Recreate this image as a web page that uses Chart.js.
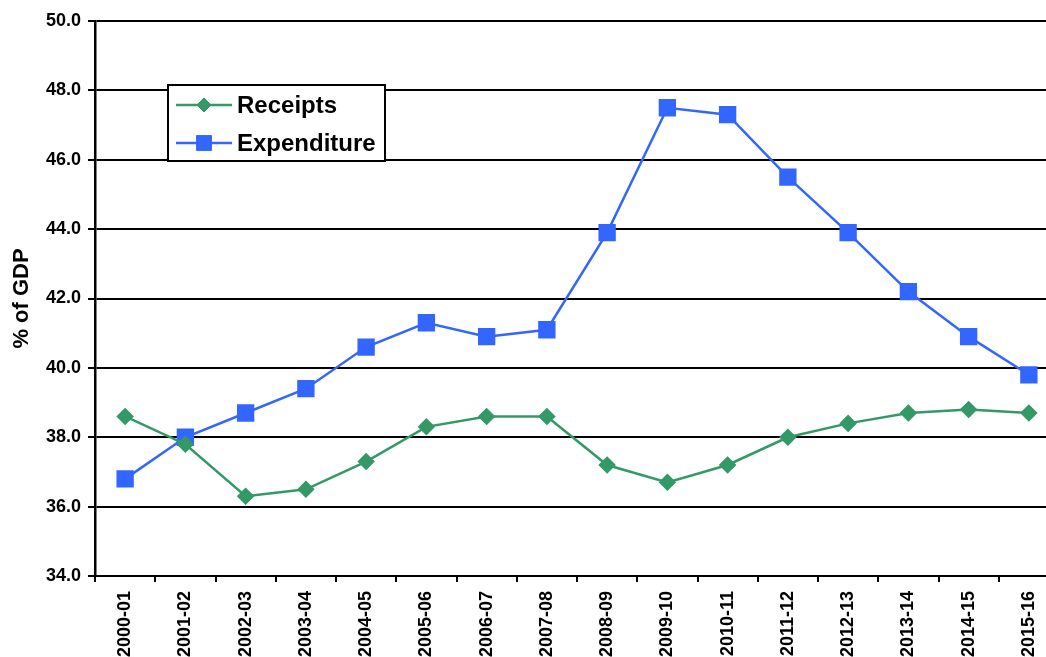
<!DOCTYPE html>
<html>
<head>
<meta charset="utf-8">
<script src="https://cdn.jsdelivr.net/npm/chart.js@4/dist/chart.umd.min.js"></script>
<style>
  html, body { margin: 0; padding: 0; background: #fff; overflow: hidden; }
  #frame { position: relative; width: 1046px; height: 657px; overflow: hidden; }
  #wrap { position: absolute; left: 0; top: 0; width: 1059px; height: 657px; }
</style>
</head>
<body>
<div id="frame"><div id="wrap"><canvas id="c" width="1059" height="657"></canvas></div></div>
<script>
// Fiscal years
const years = ['2000-01','2001-02','2002-03','2003-04','2004-05','2005-06','2006-07','2007-08',
               '2008-09','2009-10','2010-11','2011-12','2012-13','2013-14','2014-15','2015-16'];

// Public sector receipts, % of GDP
const receipts = [38.6, 37.8, 36.3, 36.5, 37.3, 38.3, 38.6, 38.6, 37.2, 36.7, 37.2, 38.0, 38.4, 38.7, 38.8, 38.7];

// Public sector expenditure, % of GDP
const expenditure = [36.8, 38.0, 38.7, 39.4, 40.6, 41.3, 40.9, 41.1, 43.9, 47.5, 47.3, 45.5, 43.9, 42.2, 40.9, 39.8];

// Value axis range
const yMin = 34, yMax = 50, yStep = 2;

const FONT = "'Liberation Sans', Arial, Helvetica, sans-serif";
const GREEN = '#339966';
const BLUE = '#3366FF';

// Boxed legend drawn inside the plot area
const boxLegend = {
  id: 'boxLegend',
  afterDatasetsDraw(chart, args, opts) {
    const ctx = chart.ctx;
    ctx.save();
    ctx.fillStyle = '#fff';
    ctx.fillRect(opts.x, opts.y, opts.w, opts.h);
    ctx.lineWidth = 2;
    ctx.strokeStyle = '#000';
    ctx.strokeRect(opts.x, opts.y, opts.w, opts.h);
    chart.data.datasets.forEach((ds, i) => {
      const cy = opts.y + opts.rowTop + i * opts.rowGap;
      ctx.beginPath();
      ctx.strokeStyle = ds.borderColor;
      ctx.lineWidth = ds.borderWidth;
      ctx.moveTo(opts.x + opts.lineStart, cy);
      ctx.lineTo(opts.x + opts.lineEnd, cy);
      ctx.stroke();
      ctx.fillStyle = ds.pointBackgroundColor;
      ctx.strokeStyle = ds.pointBorderColor;
      ctx.lineWidth = 1;
      Chart.helpers.drawPoint(ctx, {
        pointStyle: ds.pointStyle, radius: ds.pointRadius, rotation: 0, borderWidth: 1
      }, opts.x + (opts.lineStart + opts.lineEnd) / 2, cy);
      ctx.fillStyle = '#000';
      ctx.font = 'bold ' + opts.fontSize + 'px ' + FONT;
      ctx.textAlign = 'left';
      ctx.textBaseline = 'middle';
      ctx.fillText(ds.label, opts.x + opts.textStart, cy + 1);
    });
    ctx.restore();
  }
};

new Chart(document.getElementById('c'), {
  type: 'line',
  data: {
    labels: years,
    datasets: [
      {
        label: 'Receipts',
        data: receipts,
        borderColor: GREEN,
        backgroundColor: GREEN,
        pointBackgroundColor: GREEN,
        pointBorderColor: GREEN,
        borderWidth: 2.5,
        pointStyle: 'rectRot',
        pointRadius: 7,
        pointHoverRadius: 7,
        tension: 0
      },
      {
        label: 'Expenditure',
        data: expenditure,
        borderColor: BLUE,
        backgroundColor: BLUE,
        pointBackgroundColor: BLUE,
        pointBorderColor: BLUE,
        borderWidth: 2.5,
        pointStyle: 'rect',
        pointRadius: 10.5,
        pointHoverRadius: 10.5,
        tension: 0
      }
    ]
  },
  options: {
    responsive: false,
    animation: false,
    devicePixelRatio: 1,
    layout: { autoPadding: false, padding: { top: 21, left: 0, right: 0, bottom: 0 } },
    plugins: {
      legend: { display: false },
      tooltip: { enabled: false },
      boxLegend: {
        x: 168, y: 85, w: 217, h: 76,
        rowTop: 20, rowGap: 38,
        lineStart: 8, lineEnd: 64, textStart: 69,
        fontSize: 24
      }
    },
    scales: {
      x: {
        offset: true,
        grid: {
          display: true,
          offset: true,
          drawOnChartArea: false,
          drawTicks: true,
          tickLength: 6,
          color: '#000',
          lineWidth: 2
        },
        border: { display: true, color: '#000', width: 2 },
        ticks: {
          minRotation: 90,
          maxRotation: 90,
          autoSkip: false,
          padding: 9,
          color: '#000',
          font: { family: FONT, size: 18, weight: 'bold' }
        },
        afterFit(scale) {
          scale.height = 81;
          scale.paddingLeft = 0;
          scale.paddingRight = 0;
        }
      },
      y: {
        min: yMin,
        max: yMax,
        grid: {
          color: '#000',
          lineWidth: 2,
          drawTicks: true,
          tickLength: 7
        },
        border: { display: true, color: '#000', width: 2.5 },
        ticks: {
          stepSize: yStep,
          padding: 7,
          color: '#000',
          font: { family: FONT, size: 18, weight: 'bold' },
          callback: v => Number(v).toFixed(1)
        },
        title: {
          display: true,
          text: '% of GDP',
          color: '#000',
          padding: { top: 9, bottom: 0 },
          font: { family: FONT, size: 22, weight: 'bold' }
        },
        afterFit(scale) { scale.width = 95; }
      }
    }
  },
  plugins: [boxLegend]
});
</script>
</body>
</html>
